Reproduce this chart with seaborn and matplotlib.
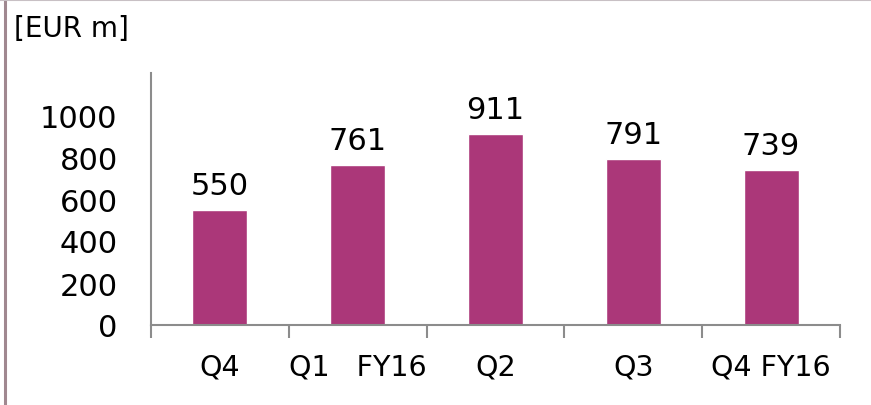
import matplotlib
matplotlib.use("Agg")
import matplotlib.pyplot as plt
import seaborn as sns
import pandas as pd
from matplotlib.lines import Line2D

categories = ["Q4", "Q1   FY16", "Q2", "Q3", "Q4 FY16"]
values = [550, 761, 911, 791, 739]
y_ticks = [0, 200, 400, 600, 800, 1000]
unit_label = "[EUR m]"

sns.set_theme(style="white")
plt.rcParams["font.family"] = ["DejaVu Sans"]

df = pd.DataFrame({"cat": categories, "val": values})

fig = plt.figure(figsize=(8.71, 4.06), dpi=100)
ax = fig.add_axes([151 / 871, (406 - 326) / 406, (840 - 151) / 871, (326 - 74) / 406])

sns.barplot(data=df, x="cat", y="val", color="#AB3779", saturation=1, width=0.4, ax=ax)

ax.set_ylim(0, 1200)
ax.set_xlim(-0.5, len(categories) - 0.5)
ax.set_yticks(y_ticks)
ax.set_yticklabels([str(t) for t in y_ticks], fontsize=22)
ax.tick_params(axis="y", length=0, pad=24, colors="black")
ax.set_xticks(range(len(categories)))
ax.set_xticklabels(categories, fontsize=20.5)
ax.tick_params(axis="x", which="major", bottom=True, length=0, pad=20, colors="black")
ax.set_xticks([i - 0.5 for i in range(len(categories) + 1)], minor=True)
ax.tick_params(axis="x", which="minor", bottom=True, length=9, width=1.5, color="#8c8c8c", direction="out")
ax.set_xlabel("")
ax.set_ylabel("")

for s in ["top", "right"]:
    ax.spines[s].set_visible(False)
for s in ["left", "bottom"]:
    ax.spines[s].set_color("#8c8c8c")
    ax.spines[s].set_linewidth(1.5)

for i, v in enumerate(values):
    ax.annotate(str(v), (i, v), xytext=(0, 7), textcoords="offset points",
                ha="center", va="bottom", fontsize=22, color="black")

fig.text(14 / 871, 1 - 29 / 406, unit_label, fontsize=20, ha="left", va="center", color="black")

fig.add_artist(Line2D([5 / 871, 5 / 871], [0, 1], transform=fig.transFigure, color="#A08890", linewidth=2.2))
fig.add_artist(Line2D([0, 1], [1 - 0.5 / 406, 1 - 0.5 / 406], transform=fig.transFigure, color="#C8C0C4", linewidth=1.5))

fig.savefig("out.png", dpi=100)
